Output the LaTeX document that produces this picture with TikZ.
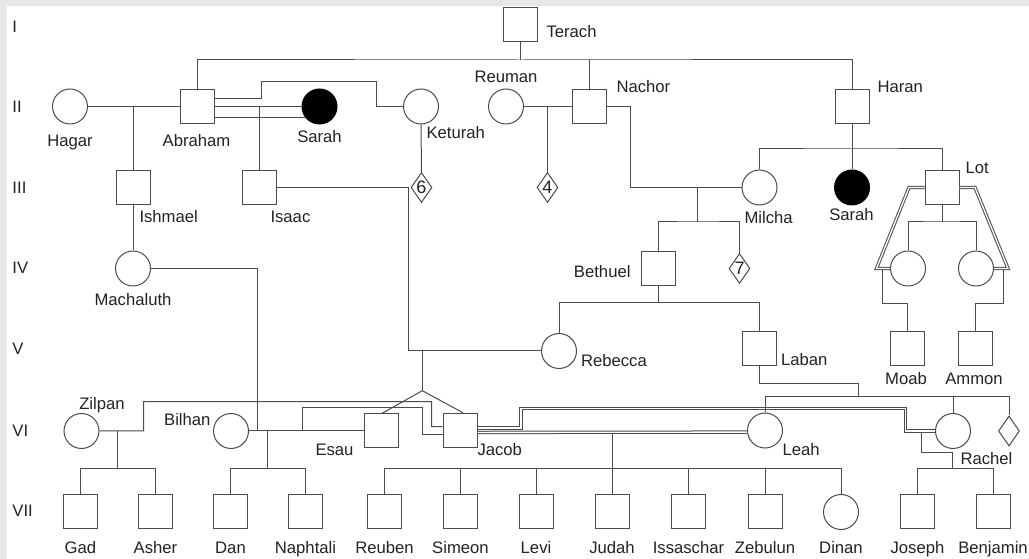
\documentclass[tikz,border=0pt]{standalone}
\usepackage{fontspec}
\setmainfont{Liberation Sans}
\usetikzlibrary{shapes.geometric}
\definecolor{bggray}{RGB}{230,231,233}
\definecolor{linegray}{RGB}{75,75,75}
\definecolor{textgray}{RGB}{35,35,35}
\tikzset{
  male/.style={draw=linegray,rectangle,minimum size=25.5pt,inner sep=0pt,fill=white},
  female/.style={draw=linegray,circle,minimum size=26.25pt,inner sep=0pt,fill=white},
  affected/.style={fill=black,draw=black},
  unknown/.style={draw=linegray,diamond,aspect=0.7,minimum width=15.75pt,minimum height=22.5pt,inner sep=0pt,fill=white,text=textgray,font=\fontsize{13.5}{13.5}\selectfont},
  lbl/.style={text=textgray,inner sep=0pt,text height=9pt,text depth=0pt,font=\fontsize{12.5}{15}\selectfont},
  gen/.style={lbl,anchor=west},
  dbl/.style={double=white,double distance=1pt},
}
\begin{document}
\begin{tikzpicture}[x=0.75pt,y=-0.75pt,line width=0.75pt,color=linegray]
      \useasboundingbox (0,0) rectangle (1029,559);
      \fill[bggray] (0,0) rectangle (1029,559);
      \fill[white] (7,6) rectangle (1029,559);
      \path
        (12,27) node[gen] (gI){I}
        (12,107) node[gen] (gII){II}
        (12,188) node[gen] (gIII){III}
        (12,268) node[gen] (gIV){IV}
        (12,349) node[gen] (gV){V}
        (12,431) node[gen] (gVI){VI}
        (12,511) node[gen] (gVII){VII};
      \path
        (520.5,25) node[male] (terach){}
        (70,106.5) node[female] (hagar){}
        (197,106.5) node[male] (abraham){}
        (319.5,106.5) node[female,affected] (sarahA){}
        (421,106.5) node[female] (keturah){}
        (506,106.5) node[female] (reuman){}
        (589,106.5) node[male] (nachor){}
        (852,106.5) node[male] (haran){};
      \path
        (133,187.5) node[male] (ishmael){}
        (259,187.5) node[male] (isaac){}
        (421.5,187.5) node[unknown] (six){6}
        (547.5,187.5) node[unknown] (four){4}
        (759.5,187.5) node[female] (milcha){}
        (852,187.5) node[female,affected] (sarahH){}
        (942,187.5) node[male] (lot){};
      \path
        (133,268.5) node[female] (machaluth){}
        (658,268.5) node[male] (bethuel){}
        (739.5,268.5) node[unknown] (seven){7}
        (908,268.5) node[female] (lotA){}
        (976,268.5) node[female] (lotB){};
      \path
        (559,351) node[female] (rebecca){}
        (759,349) node[male] (laban){}
        (907,349) node[male] (moab){}
        (975,349) node[male] (ammon){};
      \path
        (81.5,431) node[female] (zilpan){}
        (231,431) node[female] (bilhan){}
        (381.7,431) node[male] (esau){}
        (460,430.3) node[male] (jacob){}
        (765,430.5) node[female] (leah){}
        (953,431) node[female] (rachel){}
        (1009,431) node[unknown] (sib){};
      \path
        (80.5,512) node[male] (gad){}
        (155.5,512) node[male] (asher){}
        (230.5,512) node[male] (dan){}
        (305.5,512) node[male] (naphtali){}
        (384.5,512) node[male] (reuben){}
        (460.5,512) node[male] (simeon){}
        (536,512) node[male] (levi){}
        (612,512) node[male] (judah){}
        (688.5,512) node[male] (issaschar){}
        (765,512) node[male] (zebulun){}
        (841,512) node[female] (dinan){}
        (917.5,512) node[male] (joseph){}
        (993,512) node[male] (benjamin){};
      \path
        (546,32) node[lbl,anchor=west] (tTerach){Terach}
        (70,141) node[lbl] (tHagar){Hagar}
        (196.5,141) node[lbl] (tAbraham){Abraham}
        (319.5,137) node[lbl] (tSarahA){Sarah}
        (426,133) node[lbl,anchor=west] (tKeturah){Keturah}
        (506,77) node[lbl] (tReuman){Reuman}
        (616,87) node[lbl,anchor=west] (tNachor){Nachor}
        (877,87) node[lbl,anchor=west] (tHaran){Haran}
        (139,217) node[lbl,anchor=west] (tIshmael){Ishmael}
        (270,217) node[lbl,anchor=west] (tIsaac){Isaac}
        (744,217.5) node[lbl,anchor=west] (tMilcha){Milcha}
        (851.5,215) node[lbl] (tSarahH){Sarah}
        (965,168) node[lbl,anchor=west] (tLot){Lot}
        (133,300) node[lbl] (tMachaluth){Machaluth}
        (631,271.5) node[lbl,anchor=east] (tBethuel){Bethuel}
        (580.5,360.5) node[lbl,anchor=west] (tRebecca){Rebecca}
        (780.5,360) node[lbl,anchor=west] (tLaban){Laban}
        (906,379) node[lbl] (tMoab){Moab}
        (974,379) node[lbl] (tAmmon){Ammon}
        (102,404) node[lbl] (tZilpan){Zilpan}
        (211,420) node[lbl,anchor=east] (tBilhan){Bilhan}
        (354,450) node[lbl,anchor=east] (tEsau){Esau}
        (477,450) node[lbl,anchor=west] (tJacob){Jacob}
        (782,450) node[lbl,anchor=west] (tLeah){Leah}
        (960,458.3) node[lbl,anchor=west] (tRachel){Rachel};
      \path
        (80.5,548) node[lbl] (tGad){Gad}
        (155.5,548) node[lbl] (tAsher){Asher}
        (230.5,548) node[lbl] (tDan){Dan}
        (305.5,548) node[lbl] (tNaphtali){Naphtali}
        (384.5,548) node[lbl] (tReuben){Reuben}
        (460.5,548) node[lbl] (tSimeon){Simeon}
        (536,548) node[lbl] (tLevi){Levi}
        (612,548) node[lbl] (tJudah){Judah}
        (688.5,548) node[lbl] (tIssaschar){Issaschar}
        (765,548) node[lbl] (tZebulun){Zebulun}
        (841,548) node[lbl] (tDinan){Dinan}
        (917.5,548) node[lbl] (tJoseph){Joseph}
        (993,548) node[lbl] (tBenjamin){Benjamin};
      \coordinate (sibII) at (520.5,60);
      \coordinate (nm) at (697.5,222);
      \coordinate (hc) at (852,149);
      \coordinate (lc) at (942,222);
      \coordinate (lm) at (882,270);
      \coordinate (la) at (1003,270);
      \coordinate (bc) at (658,302.7);
      \coordinate (tw) at (422.3,390.7);
      \coordinate (jl) at (612,433.5);
      \coordinate (jls) at (612,468.3);
      \coordinate (jr) at (921,432.5);
      \coordinate (jrs) at (952.5,468.3);
      \coordinate (lb) at (858.3,396.7);
      \coordinate (zc) at (117.7,468.3);
      \coordinate (bd) at (267.7,468.3);
      \begin{scope}[-]
        \draw (terach.south) -- (sibII);
        \draw (abraham.north) |- (sibII) -| (haran.north);
        \draw (nachor.north) -- (nachor.north |- sibII);
        \draw (hagar.east) -- (abraham.west);
        \draw (ishmael.north) -- (ishmael.north |- hagar.east);
        \draw (abraham.east) -- (sarahA.west);
        \draw (sarahA.218) -- (sarahA.218 -| abraham.east);
        \draw (isaac.north) -- (isaac.north |- sarahA.west);
        \draw ([yshift=6pt]abraham.east) -| (261,82) -| (376,106.5) -- (keturah.west);
        \draw (keturah.south) -- (six.north);
        \draw (reuman.east) -- (nachor.west);
        \draw (four.north) -- (four.north |- reuman.east);
        \draw (nachor.east) -| (630,187.5) -- (milcha.west);
        \draw (nm) -- (nm |- milcha.west);
        \draw (bethuel.north) |- (nm) -| (seven.north);
        \draw (haran.south) -- (sarahH.north);
        \draw (milcha.north) |- (hc) -| (lot.north);
        \draw[dbl] (lot.west) -- (909,187.5) -- (876.5,268.5) -- (lotA.west);
        \draw[dbl] (lot.east) -- (975,187.5) -- (1008,268.5) -- (lotB.east);
        \draw (lot.south) -- (lc);
        \draw (lotA.north) |- (lc) -| (lotB.north);
        \draw (lm) -- (882,304) -| (moab.north);
        \draw (la) -- (1003,304) -| (ammon.north);
        \draw (ishmael.south) -- (machaluth.north);
        \draw (bethuel.south) -- (bc);
        \draw (rebecca.north) |- (bc) -| (laban.north);
        \draw (isaac.east) -| (408,351) -- (rebecca.west);
        \draw (tw) -- (422.3,351);
        \draw (esau.north) -- (tw) -- ([xshift=2.25pt]jacob.north);
        \draw (machaluth.east) -| (257,431);
        \draw (bilhan.east) -- (esau.west);
        \draw (302.3,431) |- (422.7,407.3) |- ([yshift=-2.8pt]jacob.west);
        \draw (zilpan.east) -| (143.7,401.7) -| (431.7,426.7) -- ([yshift=2.8pt]jacob.west);
        \draw[dbl] ([yshift=-1.6pt]jacob.east) -- ([yshift=-1.2pt]leah.west);
        \draw[dbl] ([yshift=1.6pt]jacob.east) -| (521,408.3) -| (905.5,431) -- (rachel.west);
        \draw (jl) -- (judah.north);
        \draw (reuben.north) |- (jls) -| (dinan.north);
        \draw (simeon.north) -- (simeon.north |- jls);
        \draw (levi.north) -- (levi.north |- jls);
        \draw (issaschar.north) -- (issaschar.north |- jls);
        \draw (zebulun.north) -- (zebulun.north |- jls);
        \draw (jr) |- (952.5,452.7) -- (jrs);
        \draw (joseph.north) |- (jrs) -| (benjamin.north);
        \draw (laban.south) |- (858.3,383.3) -- (lb);
        \draw (leah.north) |- (lb) -| (sib.north);
        \draw (rachel.north) -- (rachel.north |- lb);
        \draw (zc) -- (117.7,431);
        \draw (gad.north) |- (zc) -| (asher.north);
        \draw (bd) -- (267.7,431);
        \draw (dan.north) |- (bd) -| (naphtali.north);
      \end{scope}
    \end{tikzpicture}
\end{document}
